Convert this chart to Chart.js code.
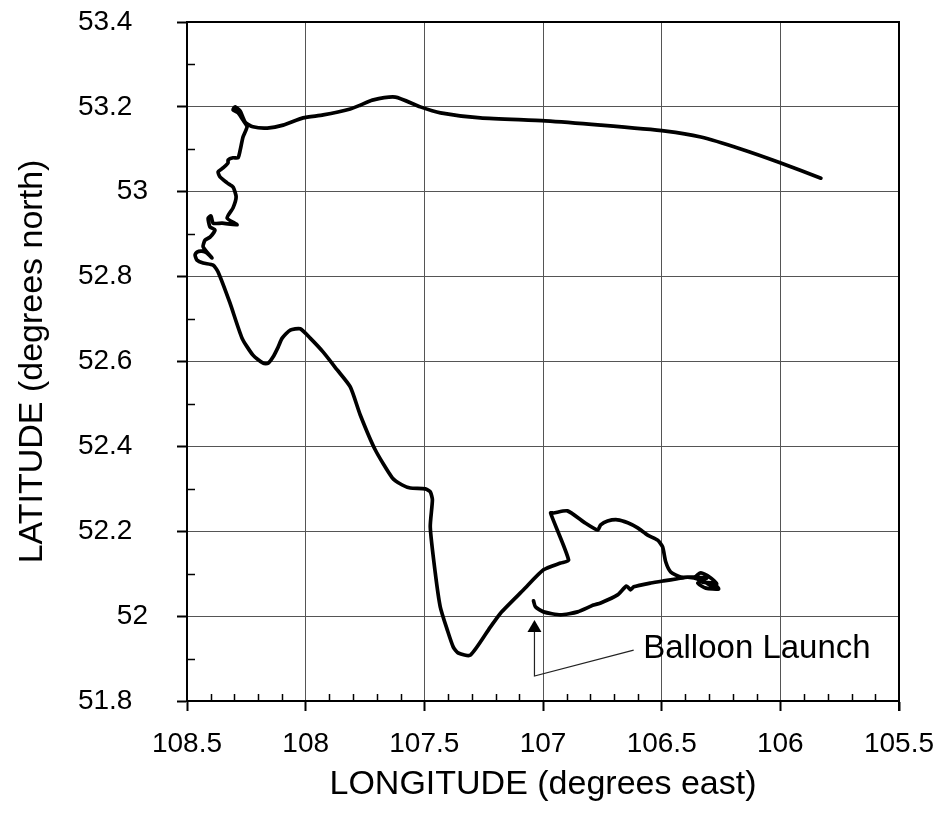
<!DOCTYPE html>
<html>
<head>
<meta charset="utf-8">
<script src="https://cdn.jsdelivr.net/npm/chart.js@4.4.0/dist/chart.umd.min.js"></script>
<style>
    html, body { margin: 0; padding: 0; background: #fff; }
    #wrap { width: 935px; height: 817px; }
</style>
</head>
<body>
<div id="wrap"><canvas id="trackChart" width="935" height="817"></canvas></div>
<script>
// ============================================
// DATA
// ============================================

// Axis ticks
const lonTicks = [108.5, 108, 107.5, 107, 106.5, 106, 105.5];
const latTicks = [51.8, 52, 52.2, 52.4, 52.6, 52.8, 53, 53.2, 53.4];
const latTickLabels = ['51.8', '52', '52.2', '52.4', '52.6', '52.8', '53', '53.2', '53.4'];

// Balloon track (launch -> end of flight)
const trackLon = [
    107.040, 107.032, 106.998, 106.926, 106.854, 106.787, 106.757, 106.686, 106.648, 106.631,
    106.618, 106.546, 106.492, 106.433, 106.390, 106.335, 106.281, 106.268, 106.293, 106.335,
    106.357, 106.327, 106.285, 106.260, 106.314, 106.348, 106.310, 106.378, 106.420, 106.462,
    106.483, 106.496, 106.517, 106.559, 106.601, 106.643, 106.686, 106.728, 106.757, 106.770,
    106.829, 106.897, 106.956, 106.968, 106.892, 106.926, 106.998, 107.082, 107.179, 107.222,
    107.306, 107.357, 107.378, 107.403, 107.433, 107.454, 107.475, 107.466, 107.475, 107.496,
    107.559, 107.593, 107.635, 107.707, 107.770, 107.812, 107.867, 107.926, 107.981, 108.023,
    108.065, 108.099, 108.116, 108.137, 108.158, 108.179, 108.222, 108.268, 108.319, 108.369,
    108.390, 108.432, 108.458, 108.466, 108.458, 108.437, 108.416, 108.395, 108.432, 108.424,
    108.403, 108.382, 108.403, 108.411, 108.399, 108.390, 108.352, 108.289, 108.331, 108.306,
    108.293, 108.306, 108.331, 108.361, 108.369, 108.348, 108.327, 108.327, 108.306, 108.285,
    108.276, 108.264, 108.247, 108.264, 108.285, 108.306, 108.297, 108.276, 108.255, 108.222,
    108.162, 108.095, 108.011, 107.926, 107.812, 107.770, 107.719, 107.622, 107.517, 107.432,
    107.264, 106.990, 106.757, 106.483, 106.335, 106.167, 105.998, 105.829
];
const trackLat = [
    52.036, 52.022, 52.010, 52.003, 52.010, 52.026, 52.031, 52.050, 52.071, 52.062,
    52.069, 52.078, 52.083, 52.088, 52.092, 52.085, 52.069, 52.076, 52.090, 52.102,
    52.092, 52.080, 52.078, 52.064, 52.066, 52.078, 52.090, 52.092, 52.092, 52.104,
    52.128, 52.163, 52.179, 52.191, 52.208, 52.220, 52.227, 52.224, 52.215, 52.203,
    52.222, 52.248, 52.243, 52.243, 52.132, 52.125, 52.109, 52.062, 52.007, 51.974,
    51.908, 51.913, 51.927, 51.967, 52.022, 52.102, 52.210, 52.274, 52.293, 52.300,
    52.302, 52.309, 52.326, 52.392, 52.474, 52.540, 52.580, 52.622, 52.655, 52.677,
    52.674, 52.655, 52.634, 52.611, 52.596, 52.596, 52.615, 52.655, 52.738, 52.811,
    52.827, 52.832, 52.839, 52.851, 52.858, 52.860, 52.856, 52.844, 52.870, 52.886,
    52.893, 52.910, 52.917, 52.938, 52.943, 52.926, 52.926, 52.922, 52.938, 52.962,
    52.988, 53.011, 53.021, 53.035, 53.047, 53.056, 53.068, 53.075, 53.080, 53.080,
    53.098, 53.129, 53.153, 53.169, 53.186, 53.193, 53.200, 53.190, 53.164, 53.153,
    53.150, 53.157, 53.174, 53.181, 53.195, 53.204, 53.216, 53.223, 53.200, 53.186,
    53.174, 53.167, 53.157, 53.143, 53.129, 53.101, 53.068, 53.032
];

// Launch annotation (data coordinates)
const launchText = 'Balloon Launch';
const launchLon = 107.036;
const launchArrowTipLat = 51.991;
const launchArrowFootLat = 51.859;
const launchLeaderEnd = { lon: 106.618, lat: 51.920 };
const launchTextPos = { lon: 106.578, lat: 51.901 };

// ============================================
// CHART
// ============================================

const FONT = "'Liberation Sans', Arial, sans-serif";
Chart.defaults.font.family = FONT;
Chart.defaults.color = '#000';

// Fixed axis boxes, no extra label padding
function fixBox(size) {
    return scale => {
        if (scale.isHorizontal()) scale.height = size; else scale.width = size;
        scale.paddingTop = 0;
        scale.paddingBottom = 0;
        scale.paddingLeft = 0;
        scale.paddingRight = 0;
    };
}

// Minor ticks, box frame and launch annotation
const extrasPlugin = {
    id: 'extras',
    afterDraw(chart) {
        const { ctx, chartArea: a, scales: { x, y } } = chart;
        ctx.save();
        ctx.strokeStyle = '#000';

        // minor ticks (inside)
        ctx.lineWidth = 1.5;
        ctx.beginPath();
        for (let i = 1; i < 30; i++) {
            if (i % 5 === 0) continue;
            const px = Math.round(x.getPixelForValue(105.5 + i * 0.1)) + 0.5;
            ctx.moveTo(px, a.bottom);
            ctx.lineTo(px, a.bottom - 7);
        }
        for (let i = 1; i < 16; i += 2) {
            const py = Math.round(y.getPixelForValue(51.8 + i * 0.1)) + 0.5;
            ctx.moveTo(a.left, py);
            ctx.lineTo(a.left + 8, py);
        }
        ctx.stroke();

        // frame
        ctx.lineWidth = 2;
        ctx.strokeRect(a.left, a.top, a.right - a.left, a.bottom - a.top);
        ctx.beginPath();
        ctx.moveTo(a.right, a.bottom);
        ctx.lineTo(a.right, a.bottom + 10);
        ctx.stroke();

        // launch arrow + leader
        const ax = x.getPixelForValue(launchLon);
        const tipY = y.getPixelForValue(launchArrowTipLat);
        const footY = y.getPixelForValue(launchArrowFootLat);
        const lx = x.getPixelForValue(launchLeaderEnd.lon);
        const ly = y.getPixelForValue(launchLeaderEnd.lat);
        ctx.lineWidth = 1.2;
        ctx.strokeStyle = '#222';
        ctx.beginPath();
        ctx.moveTo(ax, tipY + 10);
        ctx.lineTo(ax, footY);
        ctx.lineTo(lx, ly);
        ctx.stroke();
        ctx.fillStyle = '#000';
        ctx.beginPath();
        ctx.moveTo(ax, tipY);
        ctx.lineTo(ax - 7, tipY + 12);
        ctx.lineTo(ax + 7, tipY + 12);
        ctx.closePath();
        ctx.fill();

        ctx.font = '33px ' + FONT;
        ctx.textAlign = 'left';
        ctx.textBaseline = 'alphabetic';
        ctx.fillText(launchText, x.getPixelForValue(launchTextPos.lon), y.getPixelForValue(launchTextPos.lat));
        ctx.restore();
    }
};

const trackChart = new Chart(document.getElementById('trackChart'), {
    type: 'scatter',
    data: {
        datasets: [{
            data: trackLon.map((lon, i) => ({ x: lon, y: trackLat[i] })),
            showLine: true,
            borderColor: '#000',
            borderWidth: 3.7,
            borderJoinStyle: 'round',
            borderCapStyle: 'round',
            pointRadius: 0,
            tension: 0.2
        }]
    },
    options: {
        responsive: false,
        animation: false,
        devicePixelRatio: 1,
        layout: { padding: { top: 22, right: 36, bottom: 0, left: 0 } },
        plugins: {
            legend: { display: false },
            tooltip: { enabled: false }
        },
        scales: {
            x: {
                type: 'linear',
                reverse: true,
                min: 105.5,
                max: 108.5,
                afterBuildTicks: scale => { scale.ticks = lonTicks.map(v => ({ value: v })); },
                afterFit: fixBox(116),
                ticks: {
                    font: { size: 28 },
                    padding: 16,
                    maxRotation: 0,
                    callback: v => String(v)
                },
                grid: {
                    color: '#555',
                    lineWidth: 1,
                    tickLength: 10,
                    tickColor: '#000',
                    tickWidth: 2
                },
                border: { display: true, color: '#000', width: 2 },
                title: {
                    display: true,
                    text: 'LONGITUDE (degrees east)',
                    font: { size: 34 },
                    padding: { top: 0, bottom: 12 }
                }
            },
            y: {
                type: 'linear',
                min: 51.8,
                max: 53.4,
                afterBuildTicks: scale => { scale.ticks = latTicks.map(v => ({ value: v })); },
                afterFit: fixBox(187),
                ticks: {
                    font: { size: 28 },
                    padding: 29,
                    callback: (v, i) => {
                        const s = latTickLabels[i];
                        return s.indexOf('.') >= 0 ? s + '\u00a0\u00a0' : s;
                    }
                },
                grid: {
                    color: '#555',
                    lineWidth: 1,
                    tickLength: 10,
                    tickColor: '#000',
                    tickWidth: 2
                },
                border: { display: true, color: '#000', width: 2 },
                title: {
                    display: true,
                    text: 'LATITUDE (degrees north)',
                    font: { size: 34 },
                    padding: { top: 12, bottom: 0 }
                }
            }
        }
    },
    plugins: [extrasPlugin]
});
</script>
</body>
</html>
